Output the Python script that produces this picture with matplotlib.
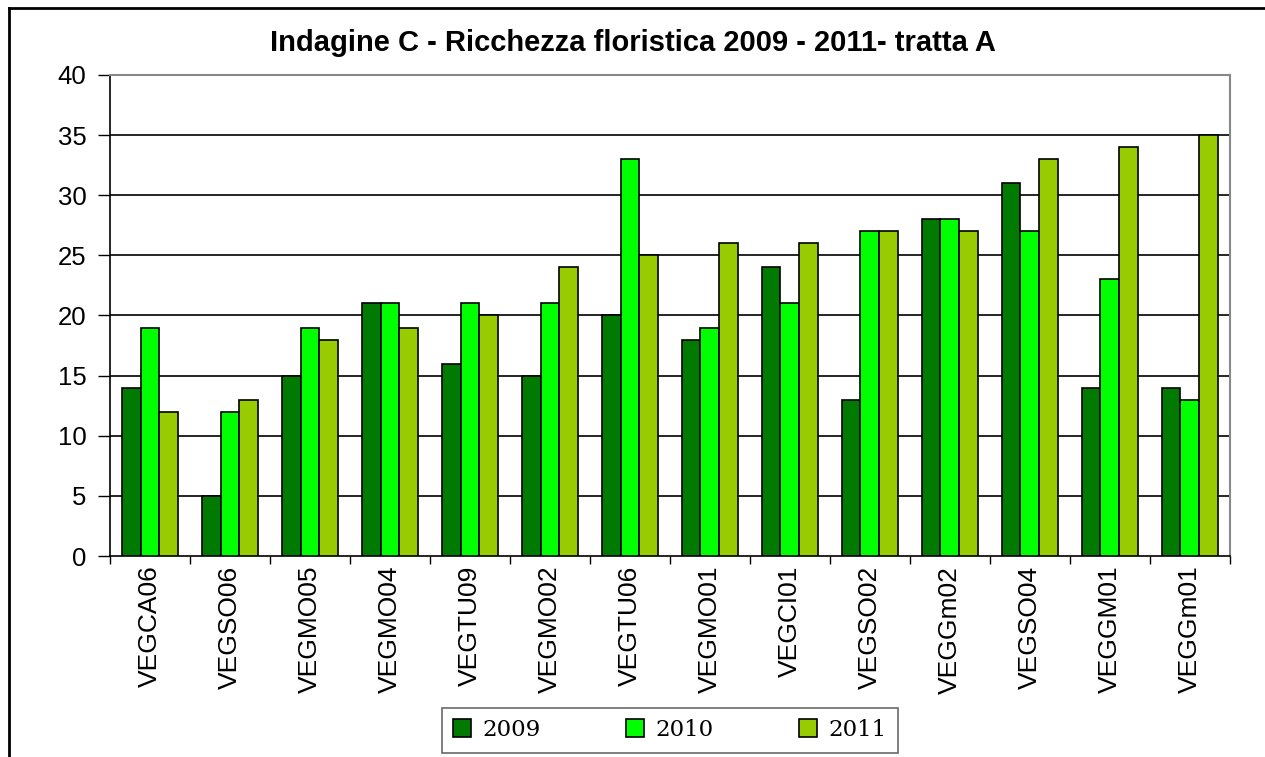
import numpy as np
import matplotlib
matplotlib.use("Agg")
import matplotlib.pyplot as plt
from matplotlib.lines import Line2D

# dati
stazioni = ["VEGCA06", "VEGSO06", "VEGMO05", "VEGMO04", "VEGTU09", "VEGMO02", "VEGTU06",
            "VEGMO01", "VEGCI01", "VEGSO02", "VEGGm02", "VEGSO04", "VEGGM01", "VEGGm01"]
anni = ["2009", "2010", "2011"]
v2009 = [14, 5, 15, 21, 16, 15, 20, 18, 24, 13, 28, 31, 14, 14]
v2010 = [19, 12, 19, 21, 21, 21, 33, 19, 21, 27, 28, 27, 23, 13]
v2011 = [12, 13, 18, 19, 20, 24, 25, 26, 26, 27, 27, 33, 34, 35]
colori = ["#007A00", "#00FF00", "#99CC00"]

fig = plt.figure(figsize=(12.65, 7.57), dpi=100)
ax = fig.add_axes([0.087, 0.2655, 0.885, 0.6355])

x = np.arange(len(stazioni))
w = 0.233
for i, (vals, anno) in enumerate(zip([v2009, v2010, v2011], anni)):
    ax.bar(x + (i - 1) * w, vals, w, color=colori[i], edgecolor="black",
           linewidth=1.2, label=anno, zorder=3)

ax.set_xlim(-0.5, len(stazioni) - 0.5)
ax.set_ylim(0, 40)
ax.set_yticks(range(0, 41, 5))
ax.tick_params(axis="y", labelsize=18.5, direction="out", length=9, width=1, pad=8)
ax.set_xticks(x)
ax.set_xticklabels(stazioni, rotation=90, fontsize=19)
ax.tick_params(axis="x", length=0, pad=7)
ax.set_xticks(np.arange(-0.5, len(stazioni), 1), minor=True)
ax.tick_params(axis="x", which="minor", direction="out", length=6, width=1)

# griglia
for yv in range(5, 40, 5):
    ax.axhline(yv, color="black", linewidth=1.2, zorder=1)
ax.spines["top"].set_color("#888888")
ax.spines["right"].set_color("#888888")
ax.spines["top"].set_linewidth(1.5)
ax.spines["right"].set_linewidth(1.5)
ax.spines["left"].set_linewidth(1.2)
ax.spines["bottom"].set_linewidth(1.2)

fig.text(0.5, 0.943, "Indagine C - Ricchezza floristica 2009 - 2011- tratta A",
         ha="center", va="center", fontsize=21, fontweight="bold",
         family="Liberation Sans")
for t in ax.get_xticklabels() + ax.get_yticklabels():
    t.set_family("Liberation Sans")

leg = fig.legend(loc="center", bbox_to_anchor=(0.5295, 0.0355), ncol=3,
                 prop={"family": "DejaVu Serif", "size": 16.5}, frameon=True,
                 fancybox=False, edgecolor="#444444", handlelength=0.8,
                 handleheight=0.8, columnspacing=3.7, borderpad=0.5,
                 handletextpad=0.5, borderaxespad=0)
leg.get_frame().set_linewidth(1.2)

# cornice esterna
fig.add_artist(Line2D([9 / 1265, 9 / 1265], [0, 1 - 8 / 757], color="black",
                      linewidth=2, transform=fig.transFigure))
fig.add_artist(Line2D([9 / 1265, 1], [1 - 8 / 757, 1 - 8 / 757], color="black",
                      linewidth=2, transform=fig.transFigure))

fig.savefig("out.png", dpi=100)
